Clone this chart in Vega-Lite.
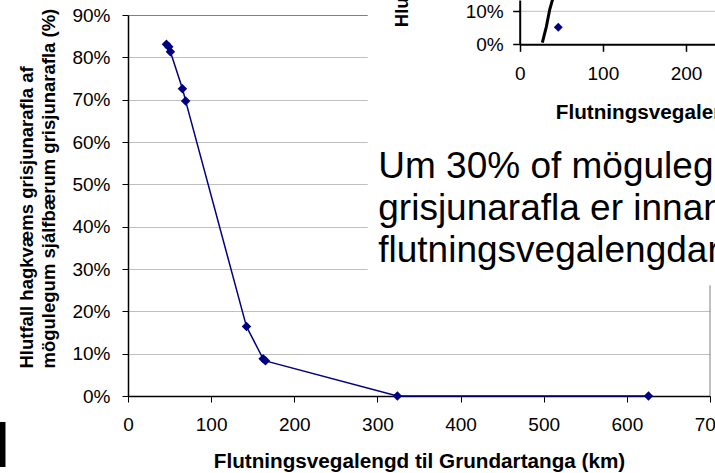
{
  "$schema": "https://vega.github.io/schema/vega-lite/v6.json",
  "width": 582,
  "height": 381,
  "autosize": "none",
  "padding": {"left": 128, "top": 15, "right": 5, "bottom": 77},
  "background": "white",
  "config": {"font": "Liberation Sans", "view": {"stroke": null}},
  "resolve": {"scale": {"x": "independent", "y": "independent"}, "axis": {"x": "independent", "y": "independent"}},
  "layer": [
    {
      "layer": [
        {
          "data": {"values": [{}]},
          "mark": {"type": "rule", "color": "#808080", "strokeWidth": 1},
          "encoding": {
            "x": {"datum": 700, "type": "quantitative"},
            "y": {"datum": 0, "type": "quantitative"},
            "y2": {"datum": 0.9}
          }
        },
        {
          "data": {"values": [
            {"km": 46.2, "share": 0.831},
            {"km": 49, "share": 0.825},
            {"km": 51, "share": 0.813},
            {"km": 65.5, "share": 0.726},
            {"km": 69.3, "share": 0.697},
            {"km": 142.5, "share": 0.164},
            {"km": 162.5, "share": 0.088},
            {"km": 165.3, "share": 0.083},
            {"km": 324, "share": 0},
            {"km": 626, "share": 0}
          ]},
          "layer": [
            {
              "mark": {"type": "line", "color": "#000080", "strokeWidth": 1.5},
              "encoding": {
                "x": {
                  "field": "km", "type": "quantitative",
                  "scale": {"domain": [0, 700], "nice": false, "zero": false},
                  "axis": {
                    "orient": "bottom",
                    "values": [0, 100, 200, 300, 400, 500, 600, 700],
                    "format": "d",
                    "grid": false,
                    "domainColor": "#000000", "domainWidth": 1.5,
                    "tickColor": "#000000", "tickSize": 6, "tickWidth": 1,
                    "labelFontSize": 19, "labelColor": "#000000", "labelPadding": 13.5,
                    "labelFlush": false, "labelOverlap": false,
                    "title": "Flutningsvegalengd til Grundartanga (km)",
                    "titleFontSize": 20.7, "titleFontWeight": "bold", "titleColor": "#000000",
                    "titleBaseline": "alphabetic", "titleY": 71
                  }
                },
                "y": {
                  "field": "share", "type": "quantitative",
                  "scale": {"domain": [0, 0.9], "nice": false},
                  "axis": {
                    "orient": "left",
                    "values": [0, 0.1, 0.2, 0.3, 0.4, 0.5, 0.6, 0.7, 0.8, 0.9],
                    "format": ".0%",
                    "grid": true,
                    "gridColor": {"condition": {"test": "datum.value >= 0.89", "value": "#808080"}, "value": "#c0c0c0"},
                    "gridWidth": 1,
                    "domainColor": "#000000", "domainWidth": 1.5,
                    "tickColor": "#000000", "tickSize": 6, "tickWidth": 1,
                    "labelFontSize": 19, "labelColor": "#000000", "labelPadding": 12,
                    "labelFlush": false, "labelOverlap": false,
                    "title": ["Hlutfall hagkvæms grisjunarafla af", "mögulegum sjálfbærum grisjunarafla (%)"],
                    "titleFontSize": 18.5, "titleFontWeight": "bold", "titleColor": "#000000",
                    "titleAngle": -90, "titleAlign": "left", "titleBaseline": "alphabetic",
                    "titleX": -96, "titleY": 353, "titleLineHeight": 22
                  }
                }
              }
            },
            {
              "mark": {"type": "point", "shape": "diamond", "filled": true, "size": 90, "color": "#000080", "opacity": 1},
              "encoding": {
                "x": {"field": "km", "type": "quantitative"},
                "y": {"field": "share", "type": "quantitative"}
              }
            }
          ]
        },
        {
          "data": {"values": [{}]},
          "mark": {"type": "rect", "fill": "#ffffff"},
          "encoding": {
            "x": {"datum": 288.3, "type": "quantitative"},
            "x2": {"datum": 720},
            "y": {"datum": 0.2617, "type": "quantitative"},
            "y2": {"datum": 1.0}
          }
        },
        {
          "data": {"values": [{"note": ["Um 30% of mögulegum", "grisjunarafla er innan", "flutningsvegalengdar"]}]},
          "mark": {"type": "text", "align": "left", "baseline": "alphabetic", "fontSize": 37, "lineHeight": 42, "color": "#000000"},
          "encoding": {
            "x": {"datum": 301, "type": "quantitative"},
            "y": {"datum": 0.5147, "type": "quantitative"},
            "text": {"field": "note"}
          }
        },
        {
          "data": {"values": [{"note": "I"}]},
          "mark": {"type": "text", "align": "left", "baseline": "alphabetic", "fontSize": 64, "fontWeight": "bold", "color": "#000000"},
          "encoding": {
            "x": {"datum": -163.6, "type": "quantitative"},
            "y": {"datum": -0.1686, "type": "quantitative"},
            "text": {"field": "note"}
          }
        }
      ]
    },
    {
      "layer": [
        {
          "data": {"values": [{}]},
          "mark": {"type": "rule", "color": "#c0c0c0", "strokeWidth": 1},
          "encoding": {
            "x": {"datum": 0, "type": "quantitative"},
            "x2": {"datum": 236},
            "y": {"datum": 0.1, "type": "quantitative"}
          }
        },
        {
          "data": {"values": [
            {"km": 27.2, "share": 0.005},
            {"km": 32, "share": 0.053},
            {"km": 36, "share": 0.104},
            {"km": 40, "share": 0.14},
            {"km": 44, "share": 0.17}
          ]},
          "mark": {"type": "line", "color": "#000000", "strokeWidth": 3},
          "encoding": {
            "x": {
              "field": "km", "type": "quantitative",
              "scale": {"domain": [0, 236], "range": [391.7, 588], "nice": false, "zero": false},
              "axis": {
                "orient": "bottom", "offset": -351.7, "zindex": 1,
                "values": [0, 100, 200], "format": "d", "grid": false,
                "domainColor": "#000000", "domainWidth": 2,
                "tickColor": "#000000", "tickSize": 7, "tickWidth": 1.5,
                "labelFontSize": 19, "labelColor": "#000000", "labelPadding": 13.5,
                "labelFlush": false, "labelOverlap": false,
                "title": "Flutningsvegalengd til Grundartanga (km)",
                "titleFontSize": 20.7, "titleFontWeight": "bold", "titleColor": "#000000",
                "titleBaseline": "alphabetic", "titleAlign": "center", "titleX": 633, "titleY": 73.7
              }
            },
            "y": {
              "field": "share", "type": "quantitative",
              "scale": {"domain": [0, 0.1342], "range": [29.3, -15], "nice": false, "zero": false},
              "axis": {
                "orient": "left", "offset": -391.7, "zindex": 1,
                "values": [0, 0.1], "format": ".0%", "grid": false,
                "domainColor": "#000000", "domainWidth": 2,
                "tickColor": "#000000", "tickSize": 7, "tickWidth": 1.5,
                "labelFontSize": 19, "labelColor": "#000000", "labelPadding": 9.5,
                "labelFlush": false, "labelOverlap": false,
                "title": "Hlutfall hagkvæms grisjunarafla af mögulegum sjálfbærum grisjunarafla (%)",
                "titleFontSize": 18.5, "titleFontWeight": "bold", "titleColor": "#000000",
                "titleAngle": -90, "titleAlign": "left", "titleBaseline": "alphabetic",
                "titleX": -112, "titleY": 11.7
              }
            }
          }
        },
        {
          "data": {"values": [{"km": 46.4, "share": 0.0515}]},
          "mark": {"type": "point", "shape": "diamond", "filled": true, "size": 80, "color": "#000080", "opacity": 1},
          "encoding": {
            "x": {"field": "km", "type": "quantitative"},
            "y": {"field": "share", "type": "quantitative"}
          }
        }
      ]
    }
  ]
}
